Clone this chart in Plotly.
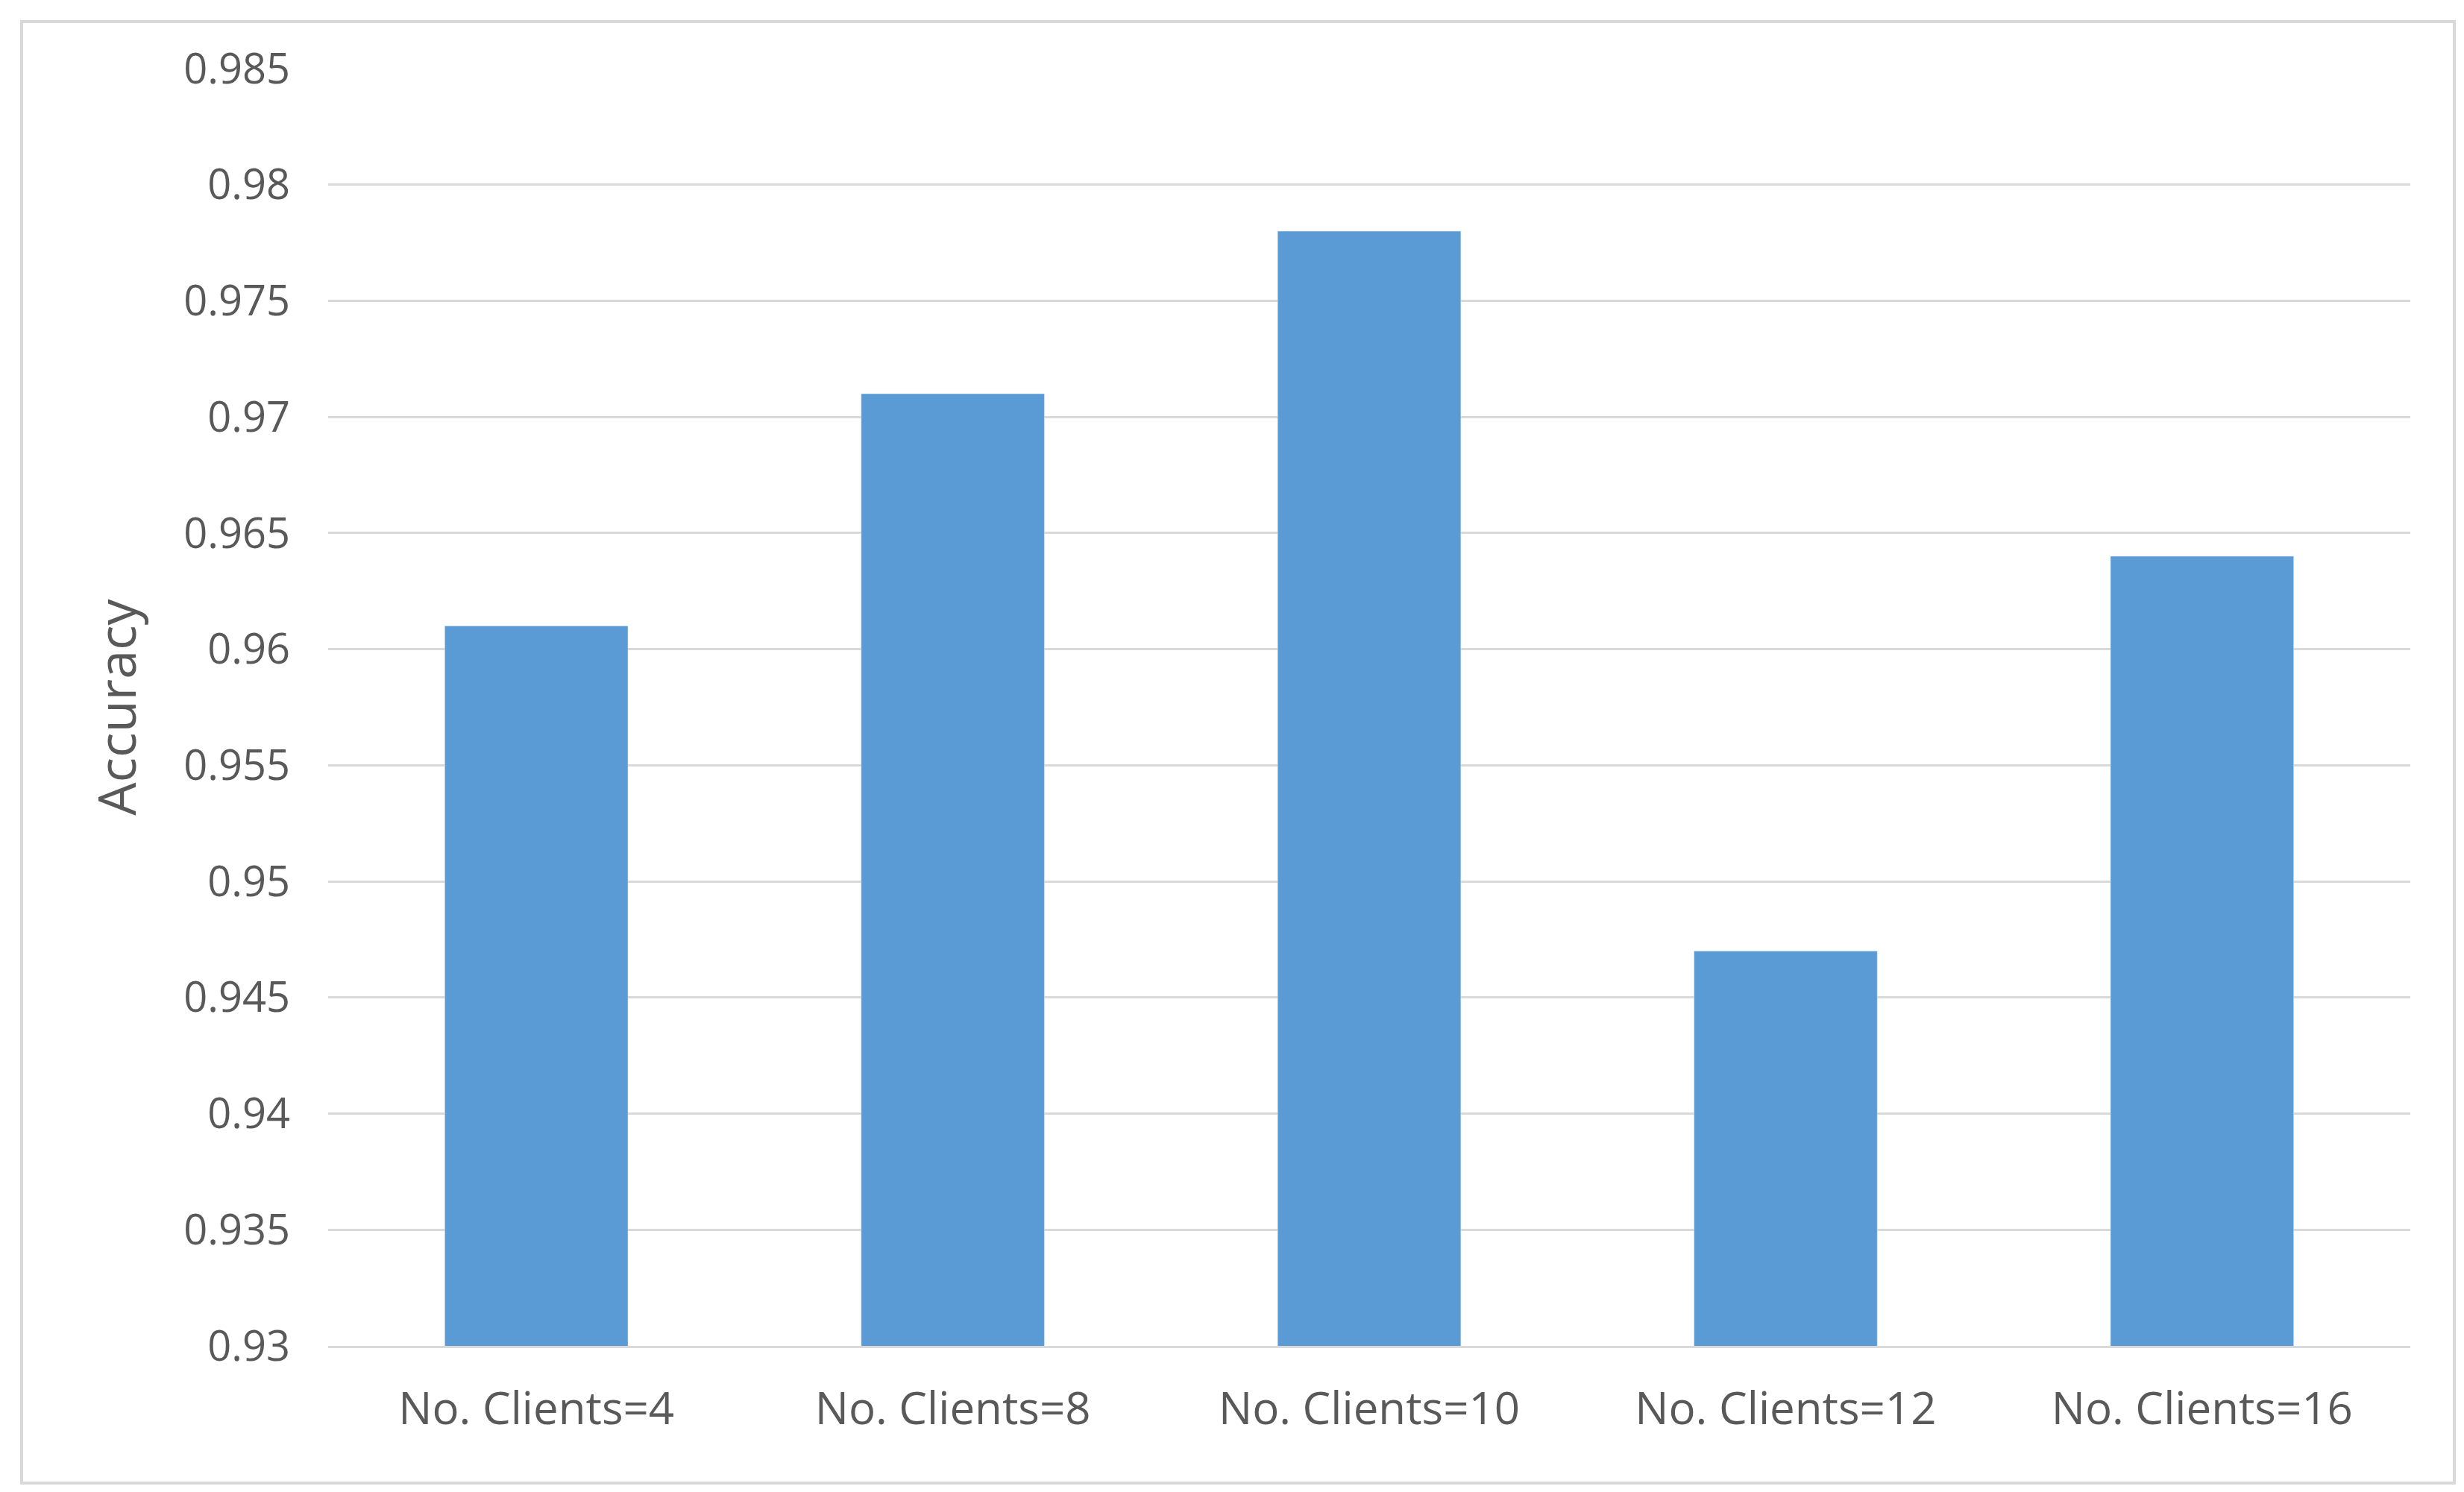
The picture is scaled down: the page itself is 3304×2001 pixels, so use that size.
import plotly.graph_objects as go

categories = ["No. Clients=4", "No. Clients=8", "No. Clients=10", "No. Clients=12", "No. Clients=16"]
accuracy = [0.961, 0.971, 0.978, 0.947, 0.964]
y_ticks = [0.93, 0.935, 0.94, 0.945, 0.95, 0.955, 0.96, 0.965, 0.97, 0.975, 0.98, 0.985]

W, H = 3304, 2001
L, R, T, B = 432, 80, 84, 204
pw, ph = W - L - R, H - T - B

def px(x): return (x - L) / pw
def py(y): return (H - B - y) / ph

fig = go.Figure(go.Bar(x=categories, y=accuracy, marker_color="#5B9BD5", width=0.44))
fig.update_layout(
    width=W, height=H, margin=dict(l=L, r=R, t=T, b=B),
    paper_bgcolor="white", plot_bgcolor="white", showlegend=False,
    font=dict(family="Open Sans", color="#595959", size=56),
    bargap=0.56,
)
fig.update_yaxes(range=[0.93, 0.985], tickvals=y_ticks, ticktext=[f"{v:g}" for v in y_ticks],
                 showgrid=True, gridcolor="#D9D9D9", gridwidth=3, zeroline=False,
                 title=dict(text="Accuracy", font=dict(size=70), standoff=40), ticklabelstandoff=50)
fig.update_xaxes(showline=True, linecolor="#D9D9D9", linewidth=3, ticklabelstandoff=30,
                 tickfont=dict(size=60))
fig.add_shape(type="rect", xref="paper", yref="paper", x0=px(21), x1=px(3283), y0=py(1981), y1=py(21),
              line=dict(color="#D9D9D9", width=4))
fig.write_html("out.html")
